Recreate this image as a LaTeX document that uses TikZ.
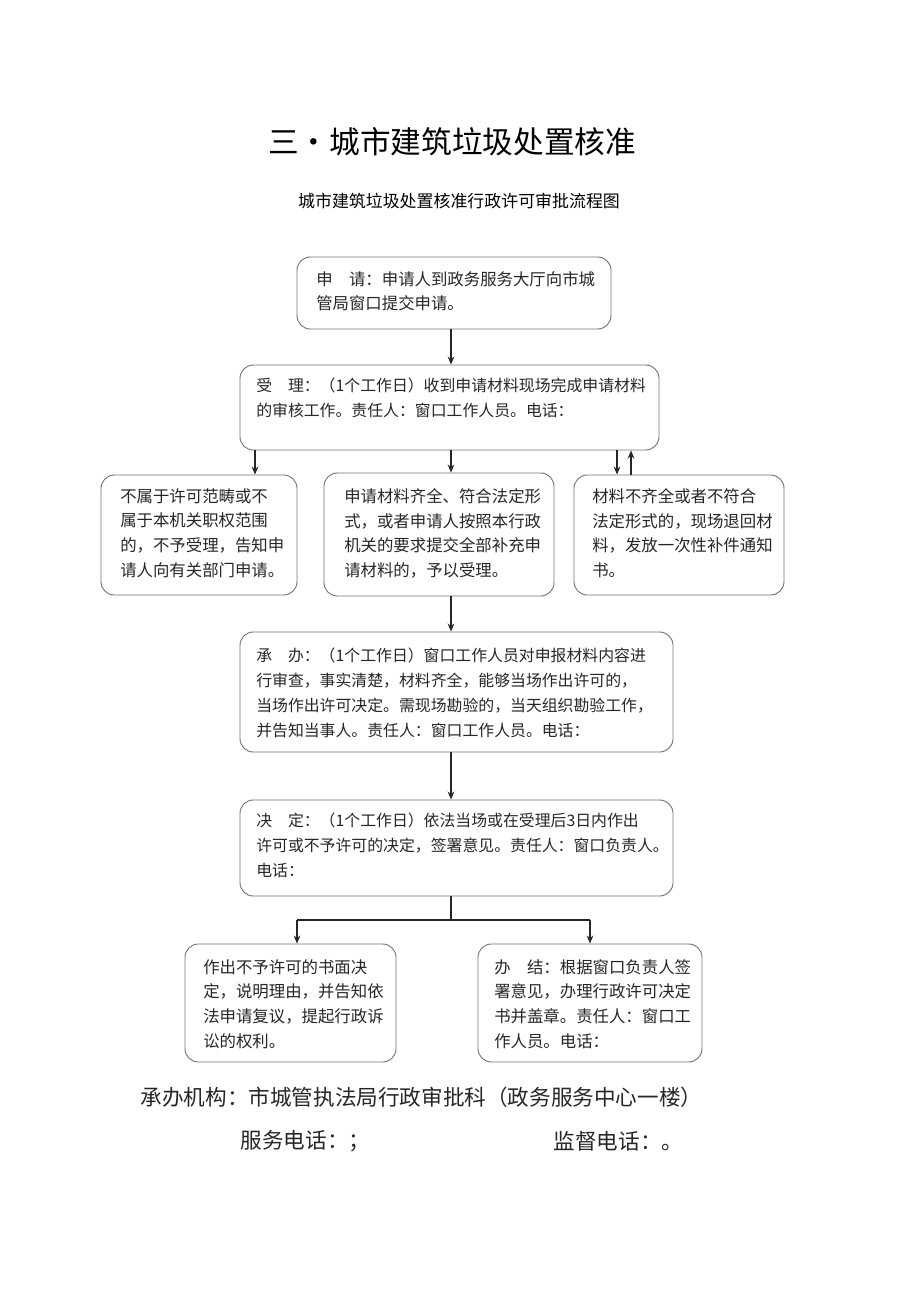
\documentclass[tikz,border=0pt]{standalone}
\usepackage{fontspec}
\setmainfont{Noto Sans CJK SC}
\usetikzlibrary{arrows.meta,fit}
\begin{document}
\begin{tikzpicture}[x=0.75pt,y=-0.75pt,
  box/.style={draw=black!55,line width=0.7pt,rounded corners=10pt,inner sep=0pt},
  txt/.style={anchor=north west,align=left,inner sep=0pt,font=\fontsize{12.3}{18.6}\selectfont,text=black!85},
  wtxt/.style={txt,font=\fontsize{11.9}{18.6}\selectfont},
  foot/.style={anchor=west,font=\fontsize{16.2}{19}\selectfont,text=black!85},
  arr/.style={draw=black!85,line width=0.9pt,-{Stealth[length=6pt,width=5pt]}},
  ln/.style={draw=black!85,line width=0.9pt}]
\useasboundingbox (0,0) rectangle (920,1301);
% titles
\node[font=\fontsize{23}{28}\selectfont] (title) at (452,142) {三•城市建筑垃圾处置核准};
\node[font=\fontsize{12.7}{15}\selectfont] (subtitle) at (459,201) {城市建筑垃圾处置核准行政许可审批流程图};
% boxes
\node[box,fit={(297,257) (611,329)}] (b1) {};
\node[box,fit={(240,365) (659,450)}] (b2) {};
\node[box,fit={(101,475) (297,595)}] (b3a) {};
\node[box,fit={(324,473) (554,596)}] (b3b) {};
\node[box,fit={(574,475) (784,595)}] (b3c) {};
\node[box,fit={(240,632) (673,752)}] (b4) {};
\node[box,fit={(240,800) (673,896)}] (b5) {};
\node[box,fit={(185,944) (396,1062)}] (b6a) {};
\node[box,fit={(478,944) (702,1062)}] (b6b) {};
% texts
\node[txt] (t1) at (316,271) {申　请：申请人到政务服务大厅向市城\\管局窗口提交申请。};
\node[wtxt] (t2) at (256,378) {受　理：（1个工作日）收到申请材料现场完成申请材料\\的审核工作。责任人：窗口工作人员。电话：};
\node[txt] (t3a) at (120,488) {不属于许可范畴或不\\属于本机关职权范围\\的，不予受理，告知申\\请人向有关部门申请。};
\node[txt] (t3b) at (344,488) {申请材料齐全、符合法定形\\式，或者申请人按照本行政\\机关的要求提交全部补充申\\请材料的，予以受理。};
\node[txt] (t3c) at (592,488) {材料不齐全或者不符合\\法定形式的，现场退回材\\料，发放一次性补件通知\\书。};
\node[wtxt] (t4) at (256,648) {承　办：（1个工作日）窗口工作人员对申报材料内容进\\行审查，事实清楚，材料齐全，能够当场作出许可的，\\当场作出许可决定。需现场勘验的，当天组织勘验工作，\\并告知当事人。责任人：窗口工作人员。电话：};
\node[wtxt] (t5) at (256,813) {决　定：（1个工作日）依法当场或在受理后3日内作出\\许可或不予许可的决定，签署意见。责任人：窗口负责人。\\电话：};
\node[txt] (t6a) at (203,959) {作出不予许可的书面决\\定，说明理由，并告知依\\法申请复议，提起行政诉\\讼的权利。};
\node[txt] (t6b) at (494,959) {办　结：根据窗口负责人签\\署意见，办理行政许可决定\\书并盖章。责任人：窗口工\\作人员。电话：};
% footer
\node[foot] (f1) at (136,1097) {承办机构：市城管执法局行政审批科（政务服务中心一楼）};
\node[foot] (f2) at (236,1141) {服务电话：；};
\node[foot] (f3) at (549,1141) {监督电话：。};
% connectors
\coordinate (cx) at (451,0);
\coordinate (lx) at (255,0);
\coordinate (rx) at (617,0);
\coordinate (ux) at (631,0);
\draw[arr] (b1.south -| cx) -- (b2.north -| cx);
\draw[arr] (b2.south -| lx) -- (b3a.north -| lx);
\draw[arr] (b2.south -| cx) -- (b3b.north -| cx);
\draw[arr] (b2.south -| rx) -- (b3c.north -| rx);
\draw[arr] (b3c.north -| ux) -- (b2.south -| ux);
\draw[arr] (b3b.south -| cx) -- (b4.north -| cx);
\draw[arr] (b4.south -| cx) -- (b5.north -| cx);
\coordinate (j) at (451,920);
\coordinate (jl) at (297,920);
\coordinate (jr) at (590,920);
\draw[ln] (b5.south -| j) -- (j);
\draw[ln] (jl) -- (jr);
\draw[arr] (jl) -- (b6a.north -| jl);
\draw[arr] (jr) -- (b6b.north -| jr);
\end{tikzpicture}
\end{document}
